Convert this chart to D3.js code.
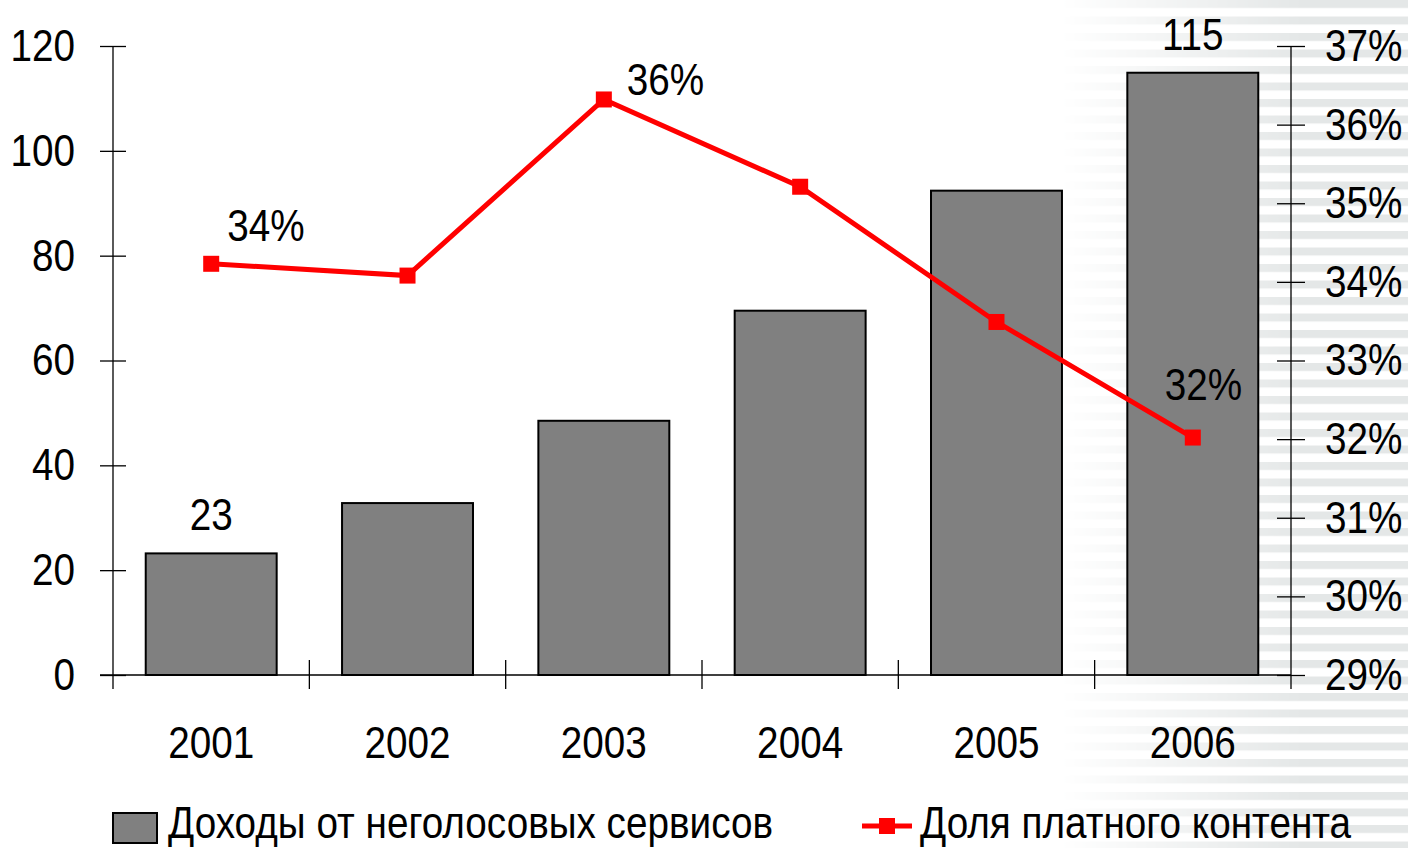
<!DOCTYPE html>
<meta charset="utf-8">
<style>
body { margin: 0; background: #fff; }
text { font-family: "Liberation Sans", Arial, sans-serif; fill: #000; font-size: 45px; }
.axis path, .axis line { stroke: #000; stroke-width: 1.3px; }
</style>
<body>
<script src="https://cdn.jsdelivr.net/npm/d3@7"></script>
<script>

var width = 1408,
    height = 848;

// data
var years = ["2001", "2002", "2003", "2004", "2005", "2006"];
var revenue = [23.2, 32.8, 48.5, 69.5, 92.4, 114.9];
var share = [34.23, 34.08, 36.32, 35.21, 33.49, 32.02];
var revenueLabels = [["2001", "23"], ["2006", "115"]];
var shareLabels = [["2001", "34%"], ["2003", "36%"], ["2006", "32%"]];
var leftTicks = [0, 20, 40, 60, 80, 100, 120];
var rightTicks = [29, 30, 31, 32, 33, 34, 35, 36, 37];
var legendNames = ["Доходы от неголосовых сервисов", "Доля платного контента"];

var mLeft = 113, mRight = 1291, mTop = 46, mBottom = 675;

var x = d3.scaleBand().domain(years).range([mLeft, mRight]).paddingInner(0.333).paddingOuter(0.1667);
var y = d3.scaleLinear().domain([0, 120]).range([mBottom, mTop]);
var y2 = d3.scaleLinear().domain([29, 37]).range([mBottom, mTop]);

var svg = d3.select("body").append("svg")
    .attr("width", width)
    .attr("height", height);

// striped background fading in on the right
var defs = svg.append("defs");
var pat = defs.append("pattern").attr("id", "stripes")
    .attr("patternUnits", "userSpaceOnUse").attr("width", 20).attr("height", 16.5);
pat.append("rect").attr("width", 20).attr("height", 16.5).attr("fill", "#fff");
pat.append("rect").attr("y", 0).attr("width", 20).attr("height", 8).attr("fill", "#e4e7e7");
var mgrad = defs.append("linearGradient").attr("id", "mfade");
mgrad.append("stop").attr("offset", "0").attr("stop-color", "#000");
mgrad.append("stop").attr("offset", "0.7").attr("stop-color", "#fff");
defs.append("mask").attr("id", "m").append("rect")
    .attr("x", 1060).attr("width", 348).attr("height", height).attr("fill", "url(#mfade)");
svg.append("rect").attr("x", 1060).attr("width", 348).attr("height", height)
    .attr("fill", "url(#stripes)").attr("mask", "url(#m)");

// bars
svg.selectAll(".bar").data(years).enter().append("rect")
    .attr("x", function(d) { return x(d); })
    .attr("y", function(d, i) { return y(revenue[i]); })
    .attr("width", x.bandwidth())
    .attr("height", function(d, i) { return mBottom - y(revenue[i]); })
    .attr("fill", "#808080")
    .attr("stroke", "#000")
    .attr("stroke-width", 2);

// left axis
var ly = svg.append("g").attr("class", "axis").attr("transform", "translate(" + mLeft + ",0)")
    .call(d3.axisLeft(y).tickValues(leftTicks).tickSize(13).tickPadding(25).tickSizeOuter(0));
ly.selectAll(".tick line").attr("x2", 13).attr("x1", -13);
ly.select(".domain").attr("d", "M0," + mTop + "V" + (mBottom + 14));

// right axis
var ry = svg.append("g").attr("class", "axis").attr("transform", "translate(" + mRight + ",0)")
    .call(d3.axisRight(y2).tickValues(rightTicks).tickSize(14).tickPadding(20).tickSizeOuter(0)
      .tickFormat(function(d) { return d + "%"; }));
ry.selectAll(".tick line").attr("x1", -14).attr("x2", 14);
ry.select(".domain").attr("d", "M0," + mTop + "V" + (mBottom + 14));
svg.selectAll(".axis").attr("font-size", null).attr("font-family", null);

// x axis
var xa = svg.append("g").attr("class", "axis").attr("transform", "translate(0," + mBottom + ")");
xa.append("line").attr("x1", mLeft - 13).attr("x2", mRight).attr("stroke", "#000").attr("stroke-width", 1.3);
xa.selectAll(".sep").data(years.slice(1)).enter().append("line")
    .attr("x1", function(d) { return x(d) - x.step() * x.paddingInner() / 2; })
    .attr("x2", function(d) { return x(d) - x.step() * x.paddingInner() / 2; })
    .attr("y1", -15).attr("y2", 14);
xa.selectAll(".lab").data(years).enter().append("text")
    .attr("x", function(d) { return x(d) + x.bandwidth() / 2; })
    .attr("y", 83)
    .attr("text-anchor", "middle")
    .text(function(d) { return d; });

// line
var cx = function(d) { return x(d) + x.bandwidth() / 2; };
var line = d3.line().x(function(d, i) { return cx(years[i]); }).y(function(d) { return y2(d); });
svg.append("path").datum(share)
    .attr("d", line)
    .attr("fill", "none")
    .attr("stroke", "#ff0000")
    .attr("stroke-width", 5);
svg.selectAll(".mk").data(share).enter().append("rect")
    .attr("x", function(d, i) { return cx(years[i]) - 8; })
    .attr("y", function(d) { return y2(d) - 8; })
    .attr("width", 16).attr("height", 16)
    .attr("fill", "#ff0000");

// value labels
svg.selectAll(".vl").data(revenueLabels).enter().append("text")
    .attr("x", function(d) { return cx(d[0]); })
    .attr("y", function(d) { return y(revenue[years.indexOf(d[0])]) - 23; })
    .attr("text-anchor", "middle")
    .text(function(d) { return d[1]; });
var slOff = { "2001": [16, -23], "2003": [23, -4], "2006": [-28, -38] };
svg.selectAll(".sl").data(shareLabels).enter().append("text")
    .attr("x", function(d) { return cx(d[0]) + slOff[d[0]][0]; })
    .attr("y", function(d) { return y2(share[years.indexOf(d[0])]) + slOff[d[0]][1]; })
    .text(function(d) { return d[1]; });

// legend
var lg = svg.append("g").attr("transform", "translate(0,828)");
lg.append("rect").attr("x", 113).attr("y", -15).attr("width", 44).attr("height", 30)
    .attr("fill", "#808080").attr("stroke", "#000").attr("stroke-width", 2);
lg.append("text").attr("x", 168).attr("y", 10).text(legendNames[0]);
lg.append("line").attr("x1", 862).attr("x2", 912).attr("y1", -2).attr("y2", -2)
    .attr("stroke", "#ff0000").attr("stroke-width", 5);
lg.append("rect").attr("x", 879).attr("y", -10).attr("width", 16).attr("height", 16).attr("fill", "#ff0000");
lg.append("text").attr("x", 920).attr("y", 10).text(legendNames[1]);

// narrow the glyphs like the original condensed face (scale about each anchor)
svg.selectAll("text").each(function() {
  var tx = +this.getAttribute("x") || 0;
  d3.select(this).attr("transform",
    "translate(" + tx + ",0) scale(0.86,1) translate(" + (-tx) + ",0)");
});

</script>
